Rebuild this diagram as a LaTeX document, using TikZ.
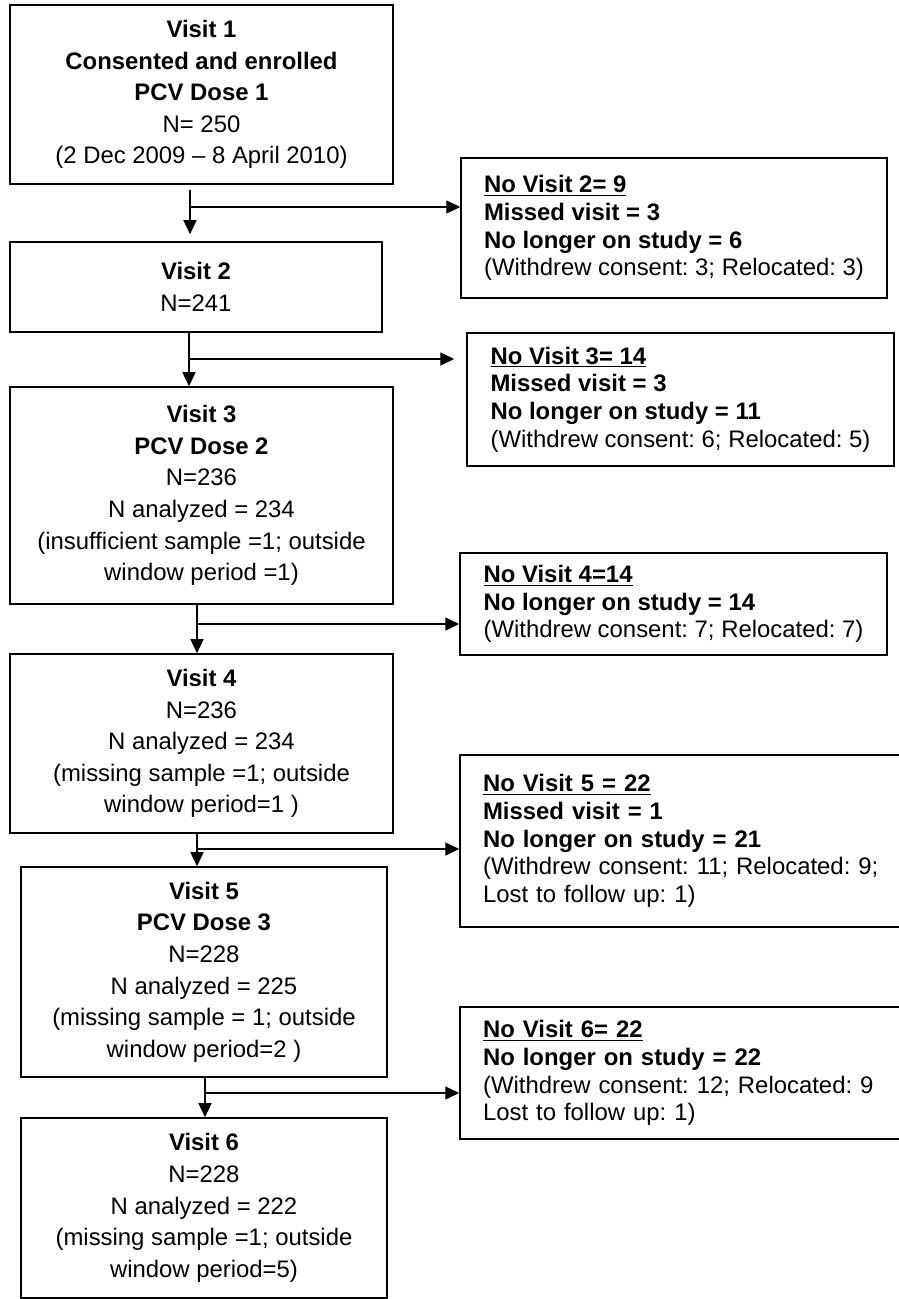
\documentclass[tikz,border=0pt]{standalone}
\usepackage{fontspec}
\setmainfont{Liberation Sans}
\usepackage{tikz}
\usetikzlibrary{arrows.meta,positioning,calc}
\frenchspacing

\begin{document}
\begin{tikzpicture}[x=0.02cm,y=-0.02cm,
          every node/.style={font=\fontsize{13.6}{18}\selectfont},
          visit/.style={draw,line width=0.9pt,inner sep=0pt,align=center},
          drop/.style={draw,line width=0.9pt,inner sep=0pt,
                       align=left,font=\fontsize{13.6}{15.8}\selectfont},
          flow/.style={line width=0.8pt,-{Triangle[length=0.28cm,width=0.26cm]}},
      ]
        \useasboundingbox (0,0) rectangle (899,1299);

        % main column
        \node[visit,minimum width=7.66cm,minimum height=3.58cm] (v1) at (201.5,94.5)
          {\textbf{Visit 1}\\\textbf{Consented and enrolled}\\\textbf{PCV Dose 1}\\
           N= 250\\(2 Dec 2009 -- 8 April 2010)};
        \node[visit,minimum width=7.44cm,minimum height=1.8cm] (v2) at (196,287)
          {\textbf{Visit 2}\\N=241};
        \node[visit,minimum width=7.66cm,minimum height=4.34cm] (v3) at (201.5,495.5)
          {\textbf{Visit 3}\\\textbf{PCV Dose 2}\\N=236\\N analyzed = 234\\
           (insufficient sample =1; outside\\window period =1)};
        \node[visit,minimum width=7.66cm,minimum height=3.58cm] (v4) at (201.5,743.5)
          {\textbf{Visit 4}\\N=236\\N analyzed = 234\\
           (missing sample =1; outside\\window period=1 )};
        \node[visit,minimum width=7.32cm,minimum height=4.2cm] (v5) at (204,972)
          {\textbf{Visit 5}\\\textbf{PCV Dose 3}\\N=228\\N analyzed = 225\\
           (missing sample = 1; outside\\window period=2 )};
        \node[visit,minimum width=7.32cm,minimum height=3.6cm] (v6) at (204,1208)
          {\textbf{Visit 6}\\N=228\\N analyzed = 222\\
           (missing sample =1; outside\\window period=5)};

        % drop-outs
        \node[drop,minimum width=8.52cm,minimum height=2.8cm] (n2) at (674,228)
          {\underline{\textbf{No Visit 2= 9}}\\\textbf{Missed visit = 3}\\
           \textbf{No longer on study = 6}\\(Withdrew consent: 3; Relocated: 3)};
        \node[drop,minimum width=8.54cm,minimum height=2.66cm] (n3) at (680.5,399.5)
          {\underline{\textbf{No Visit 3= 14}}\\\textbf{Missed visit = 3}\\
           \textbf{No longer on study = 11}\\(Withdrew consent: 6; Relocated: 5)};
        \node[drop,minimum width=8.54cm,minimum height=2.04cm] (n4) at (673.5,604)
          {\underline{\textbf{No Visit 4=14}}\\\textbf{No longer on study = 14}\\
           (Withdrew consent: 7; Relocated: 7)};
        \node[drop,inner xsep=0.46cm,text width=8.2cm,minimum height=3.44cm] (n5) at (688,841)
          {\underline{\textbf{No Visit 5 = 22}}\\\textbf{Missed visit = 1}\\
           \textbf{No longer on study = 21}\\(Withdrew consent: 11; Relocated: 9;\\
           Lost to follow up: 1)};
        \node[drop,inner xsep=0.46cm,text width=8.2cm,minimum height=2.64cm] (n6) at (688,1073)
          {\underline{\textbf{No Visit 6= 22}}\\\textbf{No longer on study = 22}\\
           (Withdrew consent: 12; Relocated: 9\\Lost to follow up: 1)};

        \coordinate (j1) at (190,207);
        \coordinate (j2) at (189,359);
        \coordinate (j3) at (197,624);
        \coordinate (j4) at (197,849);
        \coordinate (j5) at (205,1093);

        \draw[line width=0.8pt] ([yshift=-0.1cm]v1.south -| j1) -- (j1);
        \draw[flow,shorten >=0.14cm] (j1) -- (j1 |- v2.north);
        \draw[flow] (j1) -- (n2.west |- j1);

        \draw[line width=0.8pt] (v2.south -| j2) -- (j2);
        \draw[flow] (j2) -- (j2 |- v3.north);
        \draw[flow,shorten >=0.24cm] (j2) -- (n3.west |- j2);

        \draw[line width=0.8pt] (v3.south -| j3) -- (j3);
        \draw[flow] (j3) -- (j3 |- v4.north);
        \draw[flow] (j3) -- (n4.west |- j3);

        \draw[line width=0.8pt] (v4.south -| j4) -- (j4);
        \draw[flow] (j4) -- (j4 |- v5.north);
        \draw[flow] (j4) -- (n5.west |- j4);

        \draw[line width=0.8pt] (v5.south -| j5) -- (j5);
        \draw[flow] (j5) -- (j5 |- v6.north);
        \draw[flow] (j5) -- (n6.west |- j5);
      \end{tikzpicture}
\end{document}
